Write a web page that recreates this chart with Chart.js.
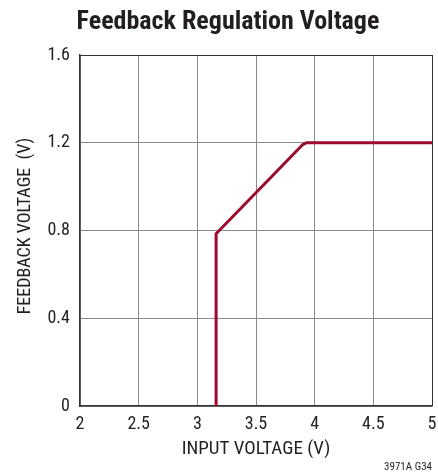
<!DOCTYPE html>
<html>
<head>
<meta charset="utf-8">
<script src="https://cdn.jsdelivr.net/npm/chart.js@4/dist/chart.umd.min.js"></script>
<style>
  html, body { margin: 0; padding: 0; background: #fff; }
  #chart { display: block; }
</style>
</head>
<body>
<canvas id="chart" width="438" height="475"></canvas>
<script>
// Feedback pin voltage versus supply input
const inputVoltage = [3.16, 3.16, 3.895, 3.93, 5.0]
const feedbackVoltage = [0, 0.785, 1.19, 1.2, 1.2]

const xTicks = [2, 2.5, 3, 3.5, 4, 4.5, 5]
const yTicks = [0, 0.4, 0.8, 1.2, 1.6]

const FONT = '"Roboto Condensed", "Liberation Sans", Arial, sans-serif'
const INK = '#231f20'
const GRID = '#8a8a8a'
const FRAME = '#333333'

// Title, rotated y label and the figure tag are drawn by hand
const textPlugin = {
    id: 'textPlugin',
    afterDraw(chart) {
        const ctx = chart.ctx
        ctx.save()
        ctx.fillStyle = INK
        ctx.textAlign = 'center'
        ctx.textBaseline = 'middle'
        ctx.font = 'bold 26px ' + FONT
        ctx.fillText('Feedback Regulation Voltage', 228, 22)

        ctx.font = '18px ' + FONT
        ctx.translate(25, 226)
        ctx.rotate(-Math.PI / 2)
        ctx.fillText('FEEDBACK VOLTAGE  (V)', 0, 0)
        ctx.restore()

        ctx.save()
        ctx.fillStyle = INK
        ctx.font = '11px ' + FONT
        ctx.textAlign = 'right'
        ctx.textBaseline = 'middle'
        ctx.fillText('3971A G34', 432, 467)
        ctx.restore()
    }
}

const edgeColor = (edge) => (context) =>
    context.tick && context.tick.value === edge ? FRAME : GRID

new Chart(document.getElementById('chart'), {
    type: 'line',
    data: {
        datasets: [{
            data: inputVoltage.map((x, i) => ({ x: x, y: feedbackVoltage[i] })),
            borderColor: '#9c0a2e',
            borderWidth: 3,
            borderJoinStyle: 'round',
            pointRadius: 0,
            fill: false,
            tension: 0
        }]
    },
    options: {
        responsive: false,
        animation: false,
        layout: { padding: { top: 55, right: 6, left: 0, bottom: 0 } },
        plugins: {
            legend: { display: false },
            tooltip: { enabled: false },
            title: { display: false }
        },
        scales: {
            x: {
                type: 'linear',
                min: 2,
                max: 5,
                afterFit: (scale) => {
                    scale.height = 69
                    scale.paddingLeft = 0
                    scale.paddingRight = 0
                },
                afterBuildTicks: (scale) => { scale.ticks = xTicks.map(v => ({ value: v })) },
                border: { color: FRAME, width: 1.5 },
                grid: { color: edgeColor(5), lineWidth: 1, drawTicks: false },
                ticks: {
                    color: INK,
                    padding: 8,
                    font: { family: FONT, size: 18 },
                    callback: (v) => String(v)
                },
                title: {
                    display: true,
                    text: 'INPUT VOLTAGE (V)',
                    color: INK,
                    font: { family: FONT, size: 19 },
                    padding: { top: 0, bottom: 14 }
                }
            },
            y: {
                min: 0,
                max: 1.6,
                afterFit: (scale) => {
                    scale.width = 80
                    scale.paddingTop = 0
                    scale.paddingBottom = 0
                },
                afterBuildTicks: (scale) => { scale.ticks = yTicks.map(v => ({ value: v })) },
                border: { color: FRAME, width: 1.5 },
                grid: { color: edgeColor(1.6), lineWidth: 1, drawTicks: false },
                ticks: {
                    color: INK,
                    padding: 10,
                    font: { family: FONT, size: 18 },
                    callback: (v) => v === 0 ? '0' : v.toFixed(1)
                }
            }
        }
    },
    plugins: [textPlugin]
})
</script>
</body>
</html>
